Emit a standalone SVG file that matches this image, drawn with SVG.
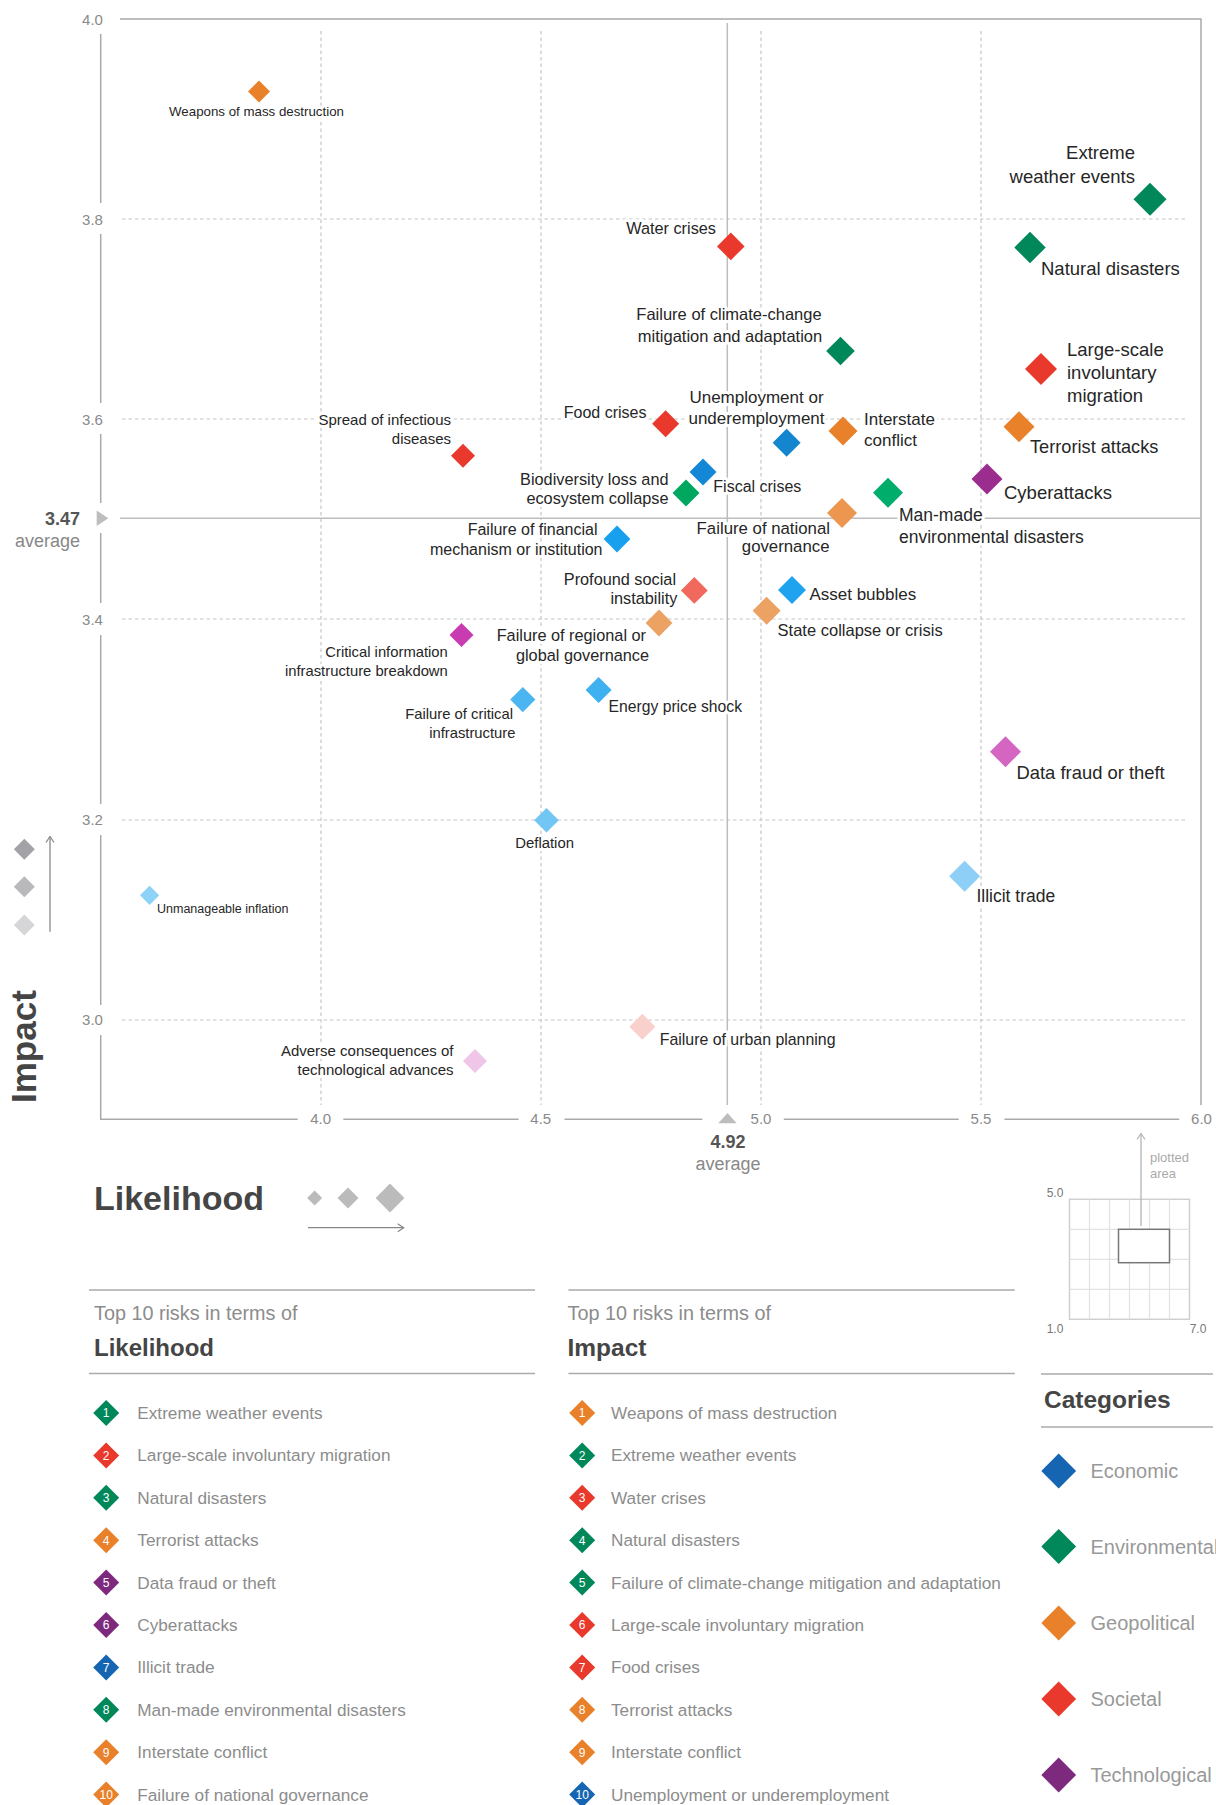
<svg xmlns="http://www.w3.org/2000/svg" width="1216" height="1805" viewBox="0 0 1216 1805">
<style>
text{font-family:"Liberation Sans",Arial,sans-serif}
.ax{stroke:#a9a9a9;stroke-width:1.5;fill:none}
.grid{stroke:#c6c6c6;stroke-width:1.2;stroke-dasharray:3.5 3;fill:none}
.avg{stroke:#bdbdbd;stroke-width:1.5;fill:none}
.tick{font-size:15px;fill:#8a8a8a;text-anchor:middle}
.lbl{fill:#262626;stroke:#fff;stroke-width:6;stroke-linejoin:round;paint-order:stroke}
.e{text-anchor:end}.m{text-anchor:middle}
.num{font-size:12px;fill:#fff;text-anchor:middle}
.item{font-size:17.2px;fill:#8c8c8c}
.head{font-size:19.8px;fill:#8c8c8c}
.bold{font-weight:bold;fill:#454545}
.cat{font-size:20px;fill:#999}
.gEnv{fill:#00875a}.gSoc{fill:#e8392c}.gGeo{fill:#e8812a}.gTec{fill:#7d2a7e}.gEco{fill:#1565b3}
</style>
<defs>
<marker id="ah" viewBox="0 0 8 10" refX="7" refY="5" markerWidth="8" markerHeight="10" markerUnits="userSpaceOnUse" orient="auto"><path d="M1 1 L7 5 L1 9" fill="none" stroke="#888" stroke-width="1.2"/></marker>
<marker id="ahl" viewBox="0 0 8 10" refX="7" refY="5" markerWidth="8" markerHeight="10" markerUnits="userSpaceOnUse" orient="auto"><path d="M1 1 L7 5 L1 9" fill="none" stroke="#b5b5b5" stroke-width="1.2"/></marker>
</defs>
<rect width="1216" height="1805" fill="#fff"/>

<g id="axes">
<path class="grid" d="M122 219H1186M122 419H1186M122 619H1186M122 820H1186M122 1020H1186"/>
<path class="grid" d="M321 31V1105M541 31V1105M761 31V1105M981 31V1105"/>
<path class="ax" d="M120 19H1201V1105"/>
<path class="ax" d="M100.7 34V203M100.7 234V403M100.7 434V503M100.7 533V603M100.7 635V804M100.7 835V1005M100.7 1035V1119.3"/>
<path class="ax" d="M100 1119.3H297.7M343.3 1119.3H518.6M564.5 1119.3H702.3M783.8 1119.3H958.7M1004.4 1119.3H1179.2"/>
<path class="avg" d="M120 518.3H1201M727.3 23V1105"/>
<path d="M96.7 510.5L108.3 518.3L96.7 526.1Z" fill="#bdbdbd"/>
<path d="M727.5 1113L736.7 1123.3H718.3Z" fill="#bdbdbd"/>
<text class="tick" x="92.5" y="24.5">4.0</text>
<text class="tick" x="92.5" y="224.5">3.8</text>
<text class="tick" x="92.5" y="424.5">3.6</text>
<text class="tick" x="92.5" y="624.5">3.4</text>
<text class="tick" x="92.5" y="825">3.2</text>
<text class="tick" x="92.5" y="1025">3.0</text>
<text class="tick" x="320.7" y="1123.5">4.0</text>
<text class="tick" x="540.8" y="1123.5">4.5</text>
<text class="tick" x="761" y="1123.5">5.0</text>
<text class="tick" x="981" y="1123.5">5.5</text>
<text class="tick" x="1201.5" y="1123.5">6.0</text>
<text x="80" y="525" class="bold e" style="font-size:18px;fill:#555">3.47</text>
<text x="80" y="546.5" class="e" style="font-size:18px;fill:#888">average</text>
<text x="728" y="1148.3" class="bold m" style="font-size:18px;fill:#555">4.92</text>
<text x="728" y="1170" class="m" style="font-size:18px;fill:#888">average</text>
</g>

<g id="nodes">
<g id="n-weapons"><text class="lbl m" x="256.5" y="116" font-size="13.3">Weapons of mass destruction</text><path d="M259 80.4l11 11l-11 11l-11-11z" fill="#e8812a"/></g>
<g id="n-extreme-weather"><text class="lbl e" font-size="18.5"><tspan x="1135" y="159">Extreme</tspan><tspan x="1135" y="183">weather events</tspan></text><path d="M1150 182.8l16.5 16.5l-16.5 16.5l-16.5-16.5z" fill="#00875a"/></g>
<g id="n-water"><text class="lbl e" x="716" y="234" font-size="16.3">Water crises</text><path d="M730.8 232.6l13.8 13.8l-13.8 13.8l-13.8-13.8z" fill="#e8392c"/></g>
<g id="n-natural"><text class="lbl" x="1041" y="275" font-size="18.5">Natural disasters</text><path d="M1030 231.8l15.7 15.7l-15.7 15.7l-15.7-15.7z" fill="#00875a"/></g>
<g id="n-climate"><text class="lbl m" font-size="16.5"><tspan x="729" y="319.5">Failure of climate-change</tspan><tspan x="730" y="342">mitigation and adaptation</tspan></text><path d="M840.5 336.7l14.3 14.3l-14.3 14.3l-14.3-14.3z" fill="#00875a"/></g>
<g id="n-migration"><text class="lbl" font-size="18.5"><tspan x="1067" y="356.3">Large-scale</tspan><tspan x="1067" y="379">involuntary</tspan><tspan x="1067" y="401.6">migration</tspan></text><path d="M1041 353l16 16l-16 16l-16-16z" fill="#e8392c"/></g>
<g id="n-food"><text class="lbl e" x="646.5" y="418.3" font-size="16">Food crises</text><path d="M665.6 410.3l13.5 13.5l-13.5 13.5l-13.5-13.5z" fill="#e8392c"/></g>
<g id="n-unemployment"><text class="lbl m" font-size="17"><tspan x="756.5" y="402.7">Unemployment or</tspan><tspan x="756.5" y="424">underemployment</tspan></text><path d="M786.6 428.8l14 14l-14 14l-14-14z" fill="#1485cf"/></g>
<g id="n-interstate"><text class="lbl" font-size="17"><tspan x="864" y="425">Interstate</tspan><tspan x="864" y="446.3">conflict</tspan></text><path d="M843 416.5l14.5 14.5l-14.5 14.5l-14.5-14.5z" fill="#e8812a"/></g>
<g id="n-terrorist"><text class="lbl" x="1030" y="453.4" font-size="18.2">Terrorist attacks</text><path d="M1019 411.2l15.5 15.5l-15.5 15.5l-15.5-15.5z" fill="#e8812a"/></g>
<g id="n-infectious"><text class="lbl e" font-size="15"><tspan x="451" y="425">Spread of infectious</tspan><tspan x="451" y="443.5">diseases</tspan></text><path d="M463 443.7l12 12l-12 12l-12-12z" fill="#e8392c"/></g>
<g id="n-biodiversity"><text class="lbl e" font-size="16.3"><tspan x="668.5" y="485">Biodiversity loss and</tspan><tspan x="668.5" y="504">ecosystem collapse</tspan></text><path d="M686 479.5l13.5 13.5l-13.5 13.5l-13.5-13.5z" fill="#00a85f"/></g>
<g id="n-fiscal"><text class="lbl" x="713.3" y="492" font-size="16">Fiscal crises</text><path d="M703 458.5l13.5 13.5l-13.5 13.5l-13.5-13.5z" fill="#1488d6"/></g>
<g id="n-cyber"><text class="lbl" x="1004" y="498.7" font-size="18.5">Cyberattacks</text><path d="M987 463.5l15.5 15.5l-15.5 15.5l-15.5-15.5z" fill="#9b2d8f"/></g>
<g id="n-manmade"><text class="lbl" font-size="17.5"><tspan x="899" y="520.5">Man-made</tspan><tspan x="899" y="542.6">environmental disasters</tspan></text><path d="M888 477.7l15 15l-15 15l-15-15z" fill="#00ad6b"/></g>
<g id="n-national"><text class="lbl e" font-size="16.8"><tspan x="830" y="533.5">Failure of national</tspan><tspan x="829.5" y="552">governance</tspan></text><path d="M842 498l15 15l-15 15l-15-15z" fill="#ec9650"/></g>
<g id="n-financial"><text class="lbl e" font-size="16"><tspan x="597.5" y="534.5">Failure of financial</tspan><tspan x="602.5" y="554.5">mechanism or institution</tspan></text><path d="M617 525.6l13.4 13.4l-13.4 13.4l-13.4-13.4z" fill="#18a0ee"/></g>
<g id="n-social"><text class="lbl e" font-size="16.3"><tspan x="676" y="584.6">Profound social</tspan><tspan x="677.4" y="603.6">instability</tspan></text><path d="M694.3 577l13.4 13.4l-13.4 13.4l-13.4-13.4z" fill="#f0695c"/></g>
<g id="n-asset"><text class="lbl" x="809.4" y="599.6" font-size="17">Asset bubbles</text><path d="M792 576l14 14l-14 14l-14-14z" fill="#1fa3ee"/></g>
<g id="n-state"><text class="lbl" x="777.6" y="636.4" font-size="16.5">State collapse or crisis</text><path d="M766.6 596.7l14 14l-14 14l-14-14z" fill="#eca262"/></g>
<g id="n-regional"><text class="lbl e" font-size="16.3"><tspan x="646" y="640.7">Failure of regional or</tspan><tspan x="649" y="661">global governance</tspan></text><path d="M659 609.6l13.4 13.4l-13.4 13.4l-13.4-13.4z" fill="#eca262"/></g>
<g id="n-critical-info"><text class="lbl e" font-size="14.8"><tspan x="447.8" y="656.8">Critical information</tspan><tspan x="447.8" y="675.7">infrastructure breakdown</tspan></text><path d="M461.5 623l12 12l-12 12l-12-12z" fill="#c93bb0"/></g>
<g id="n-energy"><text class="lbl" x="608.6" y="712.4" font-size="15.7">Energy price shock</text><path d="M598.6 677l13 13l-13 13l-13-13z" fill="#3fb1f0"/></g>
<g id="n-critical-infra"><text class="lbl e" font-size="14.8"><tspan x="513" y="718.6">Failure of critical</tspan><tspan x="515.5" y="738">infrastructure</tspan></text><path d="M522.8 687l12.6 12.6l-12.6 12.6l-12.6-12.6z" fill="#4ab5f0"/></g>
<g id="n-datafraud"><text class="lbl" x="1016.5" y="778.5" font-size="18.4">Data fraud or theft</text><path d="M1005.5 736.2l15.5 15.5l-15.5 15.5l-15.5-15.5z" fill="#d466c2"/></g>
<g id="n-deflation"><text class="lbl m" x="544.6" y="847.8" font-size="14.9">Deflation</text><path d="M546.5 808l12.3 12.3l-12.3 12.3l-12.3-12.3z" fill="#72c6f4"/></g>
<g id="n-inflation"><text class="lbl" x="157" y="913" font-size="12.5">Unmanageable inflation</text><path d="M149.6 885.7l9.6 9.6l-9.6 9.6l-9.6-9.6z" fill="#8dd2f7"/></g>
<g id="n-illicit"><text class="lbl" x="976.4" y="902.4" font-size="17.5">Illicit trade</text><path d="M964.6 860.8l15.5 15.5l-15.5 15.5l-15.5-15.5z" fill="#8ecff7"/></g>
<g id="n-urban"><text class="lbl" x="659.7" y="1045" font-size="15.9">Failure of urban planning</text><path d="M642.4 1013.7l13 13l-13 13l-13-13z" fill="#f9d1cc"/></g>
<g id="n-adverse"><text class="lbl e" font-size="15"><tspan x="453.5" y="1056">Adverse consequences of</tspan><tspan x="453.5" y="1075">technological advances</tspan></text><path d="M475 1049l12 12l-12 12l-12-12z" fill="#efc5e8"/></g>
</g>

<g id="impact-key">
<path d="M24.3 838.8l10.5 10.5l-10.5 10.5l-10.5-10.5z" fill="#a3a3a7"/>
<path d="M24.3 876.2l10.5 10.5l-10.5 10.5l-10.5-10.5z" fill="#b9b9bc"/>
<path d="M24.3 914.5l10.5 10.5l-10.5 10.5l-10.5-10.5z" fill="#d6d6d8"/>
<line x1="50" y1="931.7" x2="50" y2="836.5" stroke="#888" stroke-width="1.3" marker-end="url(#ah)"/>
<text transform="translate(35.5 1103) rotate(-90)" class="bold" style="font-size:35px">Impact</text>
</g>

<g id="likelihood-key">
<text x="94" y="1210" class="bold" style="font-size:34px">Likelihood</text>
<path d="M314.6 1190.5l7.5 7.5l-7.5 7.5l-7.5-7.5z" fill="#bbb"/>
<path d="M348 1187.5l10.5 10.5l-10.5 10.5l-10.5-10.5z" fill="#bbb"/>
<path d="M390 1183.6l14.4 14.4l-14.4 14.4l-14.4-14.4z" fill="#bbb"/>
<line x1="308" y1="1227.7" x2="403.7" y2="1227.7" stroke="#888" stroke-width="1.3" marker-end="url(#ah)"/>
</g>

<g id="plotted-area-key">
<rect x="1069.5" y="1199.3" width="120" height="120" fill="#fff" stroke="#cfcfcf" stroke-width="1.5"/>
<path d="M1089.5 1199.3V1319.3M1109.5 1199.3V1319.3M1129.5 1199.3V1319.3M1149.5 1199.3V1319.3M1169.5 1199.3V1319.3M1069.5 1229.3H1189.5M1069.5 1259.3H1189.5M1069.5 1289.3H1189.5" stroke="#e2e2e2" stroke-width="1.2" fill="none"/>
<rect x="1118.5" y="1229.3" width="51" height="33.4" fill="#fff" stroke="#777" stroke-width="1.5"/>
<line x1="1141" y1="1226" x2="1141" y2="1133.5" stroke="#b5b5b5" stroke-width="1.3" marker-end="url(#ahl)"/>
<text x="1150" y="1161.7" style="font-size:13px;fill:#aaa">plotted</text>
<text x="1150" y="1178.3" style="font-size:13px;fill:#aaa">area</text>
<text x="1055" y="1196.7" class="m" style="font-size:12px;fill:#777">5.0</text>
<text x="1055" y="1333" class="m" style="font-size:12px;fill:#777">1.0</text>
<text x="1198" y="1333" class="m" style="font-size:12px;fill:#777">7.0</text>
</g>

<g id="top10-likelihood">
<path d="M89 1290H535M89 1373.5H535" stroke="#aaa" stroke-width="1.5"/>
<text x="94" y="1320.3" class="head">Top 10 risks in terms of</text>
<text x="94" y="1356.3" class="bold" style="font-size:24px">Likelihood</text>
<path class="gEnv" d="M106.2 1400l13 13l-13 13l-13-13z"/><text class="num" x="106.2" y="1417.3">1</text><text class="item" x="137.3" y="1419">Extreme weather events</text>
<path class="gSoc" d="M106.2 1442.4l13 13l-13 13l-13-13z"/><text class="num" x="106.2" y="1459.7">2</text><text class="item" x="137.3" y="1461.4">Large-scale involuntary migration</text>
<path class="gEnv" d="M106.2 1484.8l13 13l-13 13l-13-13z"/><text class="num" x="106.2" y="1502.1">3</text><text class="item" x="137.3" y="1503.8">Natural disasters</text>
<path class="gGeo" d="M106.2 1527.2l13 13l-13 13l-13-13z"/><text class="num" x="106.2" y="1544.5">4</text><text class="item" x="137.3" y="1546.2">Terrorist attacks</text>
<path class="gTec" d="M106.2 1569.6l13 13l-13 13l-13-13z"/><text class="num" x="106.2" y="1586.9">5</text><text class="item" x="137.3" y="1588.6">Data fraud or theft</text>
<path class="gTec" d="M106.2 1612l13 13l-13 13l-13-13z"/><text class="num" x="106.2" y="1629.3">6</text><text class="item" x="137.3" y="1631">Cyberattacks</text>
<path class="gEco" d="M106.2 1654.4l13 13l-13 13l-13-13z"/><text class="num" x="106.2" y="1671.7">7</text><text class="item" x="137.3" y="1673.4">Illicit trade</text>
<path class="gEnv" d="M106.2 1696.8l13 13l-13 13l-13-13z"/><text class="num" x="106.2" y="1714.1">8</text><text class="item" x="137.3" y="1715.8">Man-made environmental disasters</text>
<path class="gGeo" d="M106.2 1739.2l13 13l-13 13l-13-13z"/><text class="num" x="106.2" y="1756.5">9</text><text class="item" x="137.3" y="1758.2">Interstate conflict</text>
<path class="gGeo" d="M106.2 1781.6l13 13l-13 13l-13-13z"/><text class="num" x="106.2" y="1798.9">10</text><text class="item" x="137.3" y="1800.6">Failure of national governance</text>
</g>

<g id="top10-impact">
<path d="M568.4 1290H1014.8M568.4 1373.5H1014.8" stroke="#aaa" stroke-width="1.5"/>
<text x="567.5" y="1320.3" class="head">Top 10 risks in terms of</text>
<text x="567.5" y="1356.3" class="bold" style="font-size:24.5px">Impact</text>
<path class="gGeo" d="M582.2 1400l13 13l-13 13l-13-13z"/><text class="num" x="582.2" y="1417.3">1</text><text class="item" x="611" y="1419">Weapons of mass destruction</text>
<path class="gEnv" d="M582.2 1442.4l13 13l-13 13l-13-13z"/><text class="num" x="582.2" y="1459.7">2</text><text class="item" x="611" y="1461.4">Extreme weather events</text>
<path class="gSoc" d="M582.2 1484.8l13 13l-13 13l-13-13z"/><text class="num" x="582.2" y="1502.1">3</text><text class="item" x="611" y="1503.8">Water crises</text>
<path class="gEnv" d="M582.2 1527.2l13 13l-13 13l-13-13z"/><text class="num" x="582.2" y="1544.5">4</text><text class="item" x="611" y="1546.2">Natural disasters</text>
<path class="gEnv" d="M582.2 1569.6l13 13l-13 13l-13-13z"/><text class="num" x="582.2" y="1586.9">5</text><text class="item" x="611" y="1588.6">Failure of climate-change mitigation and adaptation</text>
<path class="gSoc" d="M582.2 1612l13 13l-13 13l-13-13z"/><text class="num" x="582.2" y="1629.3">6</text><text class="item" x="611" y="1631">Large-scale involuntary migration</text>
<path class="gSoc" d="M582.2 1654.4l13 13l-13 13l-13-13z"/><text class="num" x="582.2" y="1671.7">7</text><text class="item" x="611" y="1673.4">Food crises</text>
<path class="gGeo" d="M582.2 1696.8l13 13l-13 13l-13-13z"/><text class="num" x="582.2" y="1714.1">8</text><text class="item" x="611" y="1715.8">Terrorist attacks</text>
<path class="gGeo" d="M582.2 1739.2l13 13l-13 13l-13-13z"/><text class="num" x="582.2" y="1756.5">9</text><text class="item" x="611" y="1758.2">Interstate conflict</text>
<path class="gEco" d="M582.2 1781.6l13 13l-13 13l-13-13z"/><text class="num" x="582.2" y="1798.9">10</text><text class="item" x="611" y="1800.6">Unemployment or underemployment</text>
</g>

<g id="categories">
<path d="M1041 1374H1213M1041 1427H1213" stroke="#aaa" stroke-width="1.5"/>
<text x="1044" y="1408" class="bold" style="font-size:24.5px">Categories</text>
<path class="gEco" d="M1058.7 1453.6l17.4 17.4l-17.4 17.4l-17.4-17.4z"/><text class="cat" x="1090.5" y="1478">Economic</text>
<path class="gEnv" d="M1058.7 1529.1l17.4 17.4l-17.4 17.4l-17.4-17.4z"/><text class="cat" x="1090.5" y="1553.5">Environmental</text>
<path class="gGeo" d="M1058.7 1605.6l17.4 17.4l-17.4 17.4l-17.4-17.4z"/><text class="cat" x="1090.5" y="1630">Geopolitical</text>
<path class="gSoc" d="M1058.7 1681.6l17.4 17.4l-17.4 17.4l-17.4-17.4z"/><text class="cat" x="1090.5" y="1706">Societal</text>
<path class="gTec" d="M1058.7 1757.6l17.4 17.4l-17.4 17.4l-17.4-17.4z"/><text class="cat" x="1090.5" y="1782">Technological</text>
</g>
</svg>
